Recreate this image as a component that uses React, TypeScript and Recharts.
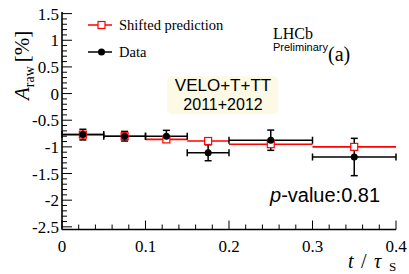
import { ComposedChart, Scatter, ErrorBar, XAxis, YAxis, Legend } from 'recharts';

// bins in t / tau_S
const binLow = [0, 0.05, 0.1, 0.15, 0.2, 0.3];
const binHigh = [0.05, 0.1, 0.15, 0.2, 0.3, 0.4];
const binCentre = [0.025, 0.075, 0.125, 0.175, 0.25, 0.35];

// A_raw [%]
const dataAraw = [-0.77, -0.8, -0.8, -1.11, -0.875, -1.19];
const dataErr = [0.1, 0.09, 0.11, 0.15, 0.19, 0.35];
const predAraw = [-0.77, -0.8, -0.86, -0.89, -0.95, -1.0];

const xMajor = [0, 0.1, 0.2, 0.3, 0.4];
const yMajor = [-2.5, -2, -1.5, -1, -0.5, 0, 0.5, 1, 1.5];
const xLabels = ['0', '0.1', '0.2', '0.3', '0.4'];
const yLabels = ['-2.5', '-2', '-1.5', '-1', '-0.5', '0', '0.5', '1', '1.5'];

const xAll = Array.from({ length: 21 }, (_, i) => Math.round(i * 2) / 100);
const yAll = Array.from({ length: 41 }, (_, i) => Math.round(-25 + i) / 10);

const SERIF = '"Liberation Serif", "Times New Roman", serif';
const SANS = '"Liberation Sans", Arial, sans-serif';

const dataRows = binCentre.map((t, i) => ({
  t,
  a: dataAraw[i],
  ex: (binHigh[i] - binLow[i]) / 2,
  ey: dataErr[i],
}));
const predRows = binCentre.map((t, i) => ({
  t,
  a: predAraw[i],
  ex: (binHigh[i] - binLow[i]) / 2,
}));

const majorIdx = (v: number, list: number[]) => list.findIndex((m) => Math.abs(m - v) < 1e-9);

const LeftTick = ({ x, y, payload }: any) => {
  const k = majorIdx(payload.value, yMajor);
  return (
    <g>
      <line x1={x} x2={x + (k >= 0 ? 10 : 5)} y1={y} y2={y} stroke="#000" strokeWidth={1} />
      {k >= 0 && (
        <text x={x - 3} y={y + 6} textAnchor="end" fontFamily={SERIF} fontSize={17} fill="#000">
          {yLabels[k]}
        </text>
      )}
    </g>
  );
};

const RightTick = ({ x, y, payload }: any) => {
  const k = majorIdx(payload.value, yMajor);
  return <line x1={x} x2={x - (k >= 0 ? 10 : 5)} y1={y} y2={y} stroke="#000" strokeWidth={1} />;
};

const BottomTick = ({ x, y, payload }: any) => {
  const k = majorIdx(payload.value, xMajor);
  return (
    <g>
      <line x1={x} x2={x} y1={y} y2={y - (k >= 0 ? 9 : 5)} stroke="#000" strokeWidth={1} />
      {k >= 0 && (
        <text x={x} y={y + 22} textAnchor="middle" fontFamily={SERIF} fontSize={17} fill="#000">
          {xLabels[k]}
        </text>
      )}
    </g>
  );
};

const TopTick = ({ x, y, payload }: any) => {
  const k = majorIdx(payload.value, xMajor);
  return <line x1={x} x2={x} y1={y} y2={y + (k >= 0 ? 9 : 5)} stroke="#000" strokeWidth={1} />;
};

const OpenSquare = ({ cx, cy }: any) => (
  <rect x={cx - 3.5} y={cy - 3.5} width={7} height={7} fill="#fff" stroke="#ff0000" strokeWidth={1.2} />
);

const Dot = ({ cx, cy }: any) => <circle cx={cx} cy={cy} r={3.5} fill="#000" />;

const LegendBox = () => (
  <svg width={160} height={50} style={{ display: 'block' }}>
    <line x1={8} x2={32} y1={15} y2={15} stroke="#ff0000" strokeWidth={1.5} />
    <rect x={18} y={11.5} width={7} height={7} fill="#fff" stroke="#ff0000" strokeWidth={1.2} />
    <text x={39} y={20} fontFamily={SERIF} fontSize={14.5} fill="#000">
      Shifted prediction
    </text>
    <line x1={8} x2={32} y1={42} y2={42} stroke="#000" strokeWidth={1.5} />
    <circle cx={21.5} cy={42} r={3.5} fill="#000" />
    <text x={39} y={47} fontFamily={SERIF} fontSize={14.5} fill="#000">
      Data
    </text>
  </svg>
);

export default function App() {
  const frame = { stroke: '#000', strokeWidth: 1.6 };
  return (
    <div style={{ position: 'absolute', left: 0, top: 0, width: 409, height: 274, background: '#fff' }}>
      <ComposedChart width={409} height={274} margin={{ top: 12, right: 13, left: 0, bottom: 0 }}>
        <XAxis
          xAxisId="b"
          dataKey="t"
          type="number"
          domain={[0, 0.4]}
          allowDataOverflow
          ticks={xAll}
          interval={0}
          height={44.5}
          tickSize={0}
          tickMargin={0}
          tickLine={false}
          axisLine={frame}
          tick={<BottomTick />}
        />
        <XAxis
          xAxisId="t"
          orientation="top"
          type="number"
          domain={[0, 0.4]}
          allowDataOverflow
          ticks={xAll}
          interval={0}
          height={0}
          tickSize={0}
          tickMargin={0}
          tickLine={false}
          axisLine={frame}
          tick={<TopTick />}
        />
        <YAxis
          yAxisId="l"
          type="number"
          domain={[-2.55, 1.53]}
          allowDataOverflow
          ticks={yAll}
          interval={0}
          width={62}
          tickSize={0}
          tickMargin={0}
          tickLine={false}
          axisLine={frame}
          tick={<LeftTick />}
        />
        <YAxis
          yAxisId="r"
          orientation="right"
          type="number"
          domain={[-2.55, 1.53]}
          allowDataOverflow
          ticks={yAll}
          interval={0}
          width={0}
          tickSize={0}
          tickMargin={0}
          tickLine={false}
          axisLine={frame}
          tick={<RightTick />}
        />
        <Legend
          layout="horizontal"
          verticalAlign="middle"
          align="center"
          wrapperStyle={{ left: 80, top: 10, width: 160, height: 50 }}
          content={() => <LegendBox />}
        />
        <Scatter
          name="Shifted prediction"
          data={predRows}
          dataKey="a"
          xAxisId="b"
          yAxisId="l"
          shape={<OpenSquare />}
          isAnimationActive={false}
        >
          <ErrorBar dataKey="ex" direction="x" width={0} stroke="#ff0000" strokeWidth={1.6} isAnimationActive={false} />
        </Scatter>
        <Scatter
          name="Data"
          data={dataRows}
          dataKey="a"
          xAxisId="b"
          yAxisId="l"
          shape={<Dot />}
          isAnimationActive={false}
        >
          <ErrorBar dataKey="ex" direction="x" width={3.5} stroke="#000" strokeWidth={1.5} isAnimationActive={false} />
          <ErrorBar dataKey="ey" direction="y" width={3.5} stroke="#000" strokeWidth={1.5} isAnimationActive={false} />
        </Scatter>
      </ComposedChart>
      <svg
        width={409}
        height={274}
        style={{ position: 'absolute', left: 0, top: 0, pointerEvents: 'none' }}
      >
        <text transform="translate(29,100) rotate(-90)" fontFamily={SERIF} fontSize={21} fill="#000">
          <tspan fontStyle="italic">A</tspan>
          <tspan fontSize={14} dy={5}>raw</tspan>
          <tspan dy={-5} dx={4}>[%]</tspan>
        </text>
        <text y={268} fontFamily={SERIF} fontSize={20} fill="#000">
          <tspan x={348} fontStyle="italic">t</tspan>
          <tspan x={361}>/</tspan>
          <tspan x={374} fontStyle="italic">τ</tspan>
          <tspan x={389} dy={3} fontSize={13}>S</tspan>
        </text>
        <text x={273} y={39} fontFamily={SERIF} fontSize={16} fill="#000">LHCb</text>
        <text x={273} y={51} fontFamily={SANS} fontSize={11} fill="#000">Preliminary</text>
        <text x={328} y={61} fontFamily={SERIF} fontSize={20} fill="#000">(a)</text>
        <rect x={167} y={76} width={111} height={38} rx={5} fill="#fcf9e4" />
        <text x={223} y={91} textAnchor="middle" fontFamily={SANS} fontSize={17} fill="#000">VELO+T+TT</text>
        <text x={223} y={110} textAnchor="middle" fontFamily={SANS} fontSize={16} fill="#000">2011+2012</text>
        <text x={270} y={202} fontFamily={SANS} fontSize={20} fill="#000">
          <tspan fontStyle="italic">p</tspan>-value:0.81
        </text>
      </svg>
    </div>
  );
}
